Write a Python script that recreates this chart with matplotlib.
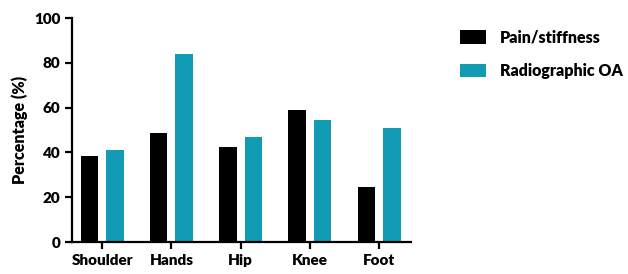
import matplotlib.pyplot as plt
import numpy as np

plt.rcParams['font.family'] = ['Lato', 'DejaVu Sans']
plt.rcParams['font.weight'] = 'heavy'
plt.rcParams['axes.labelweight'] = 'heavy'

joints = ["Shoulder", "Hands", "Hip", "Knee", "Foot"]
pain = [38.5, 48.5, 42.5, 59, 24.5]
radiographic = [41, 84, 47, 54.5, 51]

x = np.arange(len(joints))
w = 0.254
off = 0.184

fig = plt.figure(figsize=(6.28, 2.74), dpi=100)
ax = fig.add_axes([72 / 628, 32 / 274, 339 / 628, 224 / 274])

ax.bar(x - off, pain, w, color="black", label="Pain/stiffness")
ax.bar(x + off, radiographic, w, color="#129bb5", label="Radiographic OA")

ax.set_xlim(-0.435, 4.46)
ax.set_ylim(0, 100)
ax.set_yticks([0, 20, 40, 60, 80, 100])
ax.set_xticks(x)
ax.set_xticklabels(joints)
ax.set_ylabel("Percentage (%)", fontsize=11.5, labelpad=4)

for s in ["top", "right"]:
    ax.spines[s].set_visible(False)
for s in ["left", "bottom"]:
    ax.spines[s].set_linewidth(1.6)
ax.tick_params(width=1.6, length=5, labelsize=11)

ax.legend(loc="upper left", bbox_to_anchor=(446 / 628, 0.945),
          bbox_transform=fig.transFigure, frameon=False, fontsize=11.5,
          handlelength=1.6, handleheight=0.9, labelspacing=1.1,
          handletextpad=0.9)

fig.savefig("out.png", dpi=100)
